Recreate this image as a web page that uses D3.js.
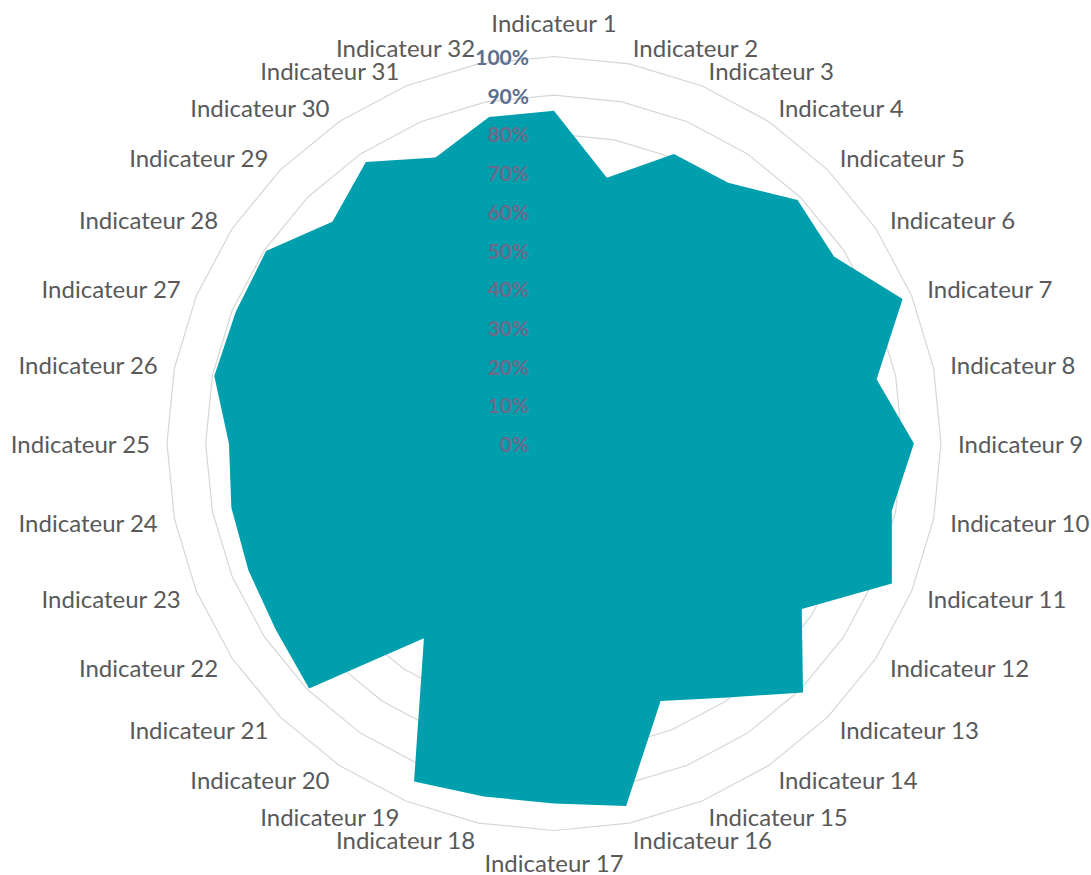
<!DOCTYPE html>
<html>
<head>
<meta charset="utf-8">
<script src="https://cdn.jsdelivr.net/npm/d3@7"></script>
<style>
  html, body { margin: 0; padding: 0; background: #ffffff; }
  svg { display: block; }
</style>
</head>
<body>
<svg id="radar" width="1091" height="875"></svg>
<script>
const indicators = d3.range(1, 33).map(i => `Indicateur ${i}`);
const scores = [
  86, 70, 81, 81, 89, 87, 97.5, 85, 93, 89, 94.5, 77, 91, 79, 72, 95.5,
  93, 93, 94.5, 60.5, 89.5, 86.5, 85.5, 85, 84, 89.5, 89, 89.5, 81, 87.5, 80, 86
];
const tickValues = d3.range(0, 101, 10);

const svg = d3.select('#radar');
const cx = 554;
const cy = 443.5;
const radius = 387;
const labelGap = 17;

const angle = d3.scaleLinear()
  .domain([0, indicators.length])
  .range([0, 2 * Math.PI]);
const r = d3.scaleLinear().domain([0, 100]).range([0, radius]);

function point(i, value) {
  const a = angle(i);
  return [cx + Math.sin(a) * r(value), cy - Math.cos(a) * r(value)];
}

const ringLine = d3.line().curve(d3.curveLinearClosed);

// concentric grid polygons
svg.append('g')
  .selectAll('path')
  .data(tickValues.filter(v => v > 0))
  .join('path')
  .attr('d', v => ringLine(indicators.map((_, i) => point(i, v))))
  .attr('fill', 'none')
  .attr('stroke', '#d6d6d6')
  .attr('stroke-width', 1.2);

// data area
svg.append('path')
  .attr('d', ringLine(scores.map((v, i) => point(i, v))))
  .attr('fill', '#009fae');

// radial tick labels
const insideLimit = Math.min(scores[0], scores[scores.length - 1]);
svg.append('g')
  .selectAll('text')
  .data(tickValues)
  .join('text')
  .attr('x', cx - 25)
  .attr('y', v => cy - r(v))
  .attr('text-anchor', 'end')
  .attr('dominant-baseline', 'central')
  .attr('font-family', 'Lato, sans-serif')
  .attr('font-weight', 'bold')
  .attr('font-size', 21)
  .attr('fill', v => (v < insideLimit ? '#6c6a8a' : '#5b6f90'))
  .text(v => `${v}%`);

// category labels
svg.append('g')
  .selectAll('text')
  .data(indicators)
  .join('text')
  .each(function (name, i) {
    const a = angle(i);
    const s = Math.sin(a);
    const c = Math.cos(a);
    const x = cx + s * (radius + labelGap);
    const y = cy - c * (radius + labelGap);
    const node = d3.select(this)
      .attr('x', x)
      .attr('y', y)
      .attr('text-anchor', Math.abs(s) < 0.01 ? 'middle' : (s > 0 ? 'start' : 'end'));
    if (Math.abs(s) < 0.01) {
      node.attr('dominant-baseline', c > 0 ? 'text-after-edge' : 'text-before-edge')
        .attr('dy', c > 0 ? -3 : 0);
    } else {
      node.attr('dominant-baseline', 'central');
    }
  })
  .attr('font-family', 'Lato, sans-serif')
  .attr('font-size', 24)
  .attr('fill', '#595959')
  .text(d => d);
</script>
</body>
</html>
